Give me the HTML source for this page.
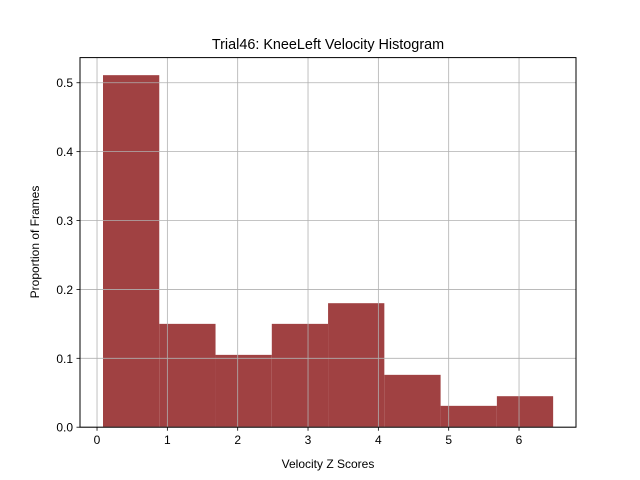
<!DOCTYPE html>
<html><head><meta charset="utf-8"><style>
body{margin:0;background:#fff}
svg{display:block;font-family:"Liberation Sans","DejaVu Sans",sans-serif}
</style></head><body>
<svg id="chart" width="640" height="480" viewBox="0 0 640 480">
<rect width="640" height="480" fill="#fff"/>
<text x="328" y="49" font-size="14.4" text-anchor="middle">Trial46: KneeLeft Velocity Histogram</text>
<g id="bars"></g><g id="grid"></g><g id="ticks"></g>
<rect x="80" y="57.6" width="496" height="369.6" fill="none" stroke="#000" stroke-width="1"/>
<text x="328" y="468" font-size="12" text-anchor="middle">Velocity Z Scores</text>
<text transform="translate(39,242) rotate(-90)" font-size="12" text-anchor="middle">Proportion of Frames</text>
</svg>
<script>
const binStart = 0.085;
const binWidth = 0.8;
const proportions = [0.511, 0.150, 0.105, 0.150, 0.180, 0.076, 0.031, 0.045];
const xTicks = [0, 1, 2, 3, 4, 5, 6];
const yTicks = [0.0, 0.1, 0.2, 0.3, 0.4, 0.5];
const yTickLabels = ["0.0", "0.1", "0.2", "0.3", "0.4", "0.5"];

const L=80,R=576,T=57.6,B=427.2;
const xMin=-0.242,xMax=6.81,yMin=0,yMax=0.5365;
const xs=v=>L+(v-xMin)/(xMax-xMin)*(R-L);
const ys=v=>B-(v-yMin)/(yMax-yMin)*(B-T);
const NS="http://www.w3.org/2000/svg";
function mk(tag,attrs,parent){const e=document.createElementNS(NS,tag);for(const k in attrs)e.setAttribute(k,attrs[k]);parent.appendChild(e);return e;}
const bars=document.getElementById('bars'),grid=document.getElementById('grid'),ticks=document.getElementById('ticks');
proportions.forEach((p,i)=>{
  const x0=xs(binStart+i*binWidth),x1=xs(binStart+(i+1)*binWidth);
  const r=mk('rect',{x:x0,y:ys(p),width:x1-x0,height:ys(0)-ys(p),fill:'#a04142'},bars);
  
  
});
xTicks.forEach(t=>{
  const x=xs(t);
  const g=mk('line',{x1:x,x2:x,y1:T,y2:B,stroke:'#b0b0b0','stroke-width':0.8},grid);
  
  
  mk('line',{x1:x,x2:x,y1:B,y2:B+3.5,stroke:'#000','stroke-width':0.8},ticks);
  const tx=mk('text',{x:x,y:B+17,'font-size':12,'text-anchor':'middle'},ticks);
  tx.textContent=t;
  
  
});
yTicks.forEach((t,i)=>{
  const y=ys(t);
  const g=mk('line',{x1:L,x2:R,y1:y,y2:y,stroke:'#b0b0b0','stroke-width':0.8},grid);
  
  
  mk('line',{x1:L-3.5,x2:L,y1:y,y2:y,stroke:'#000','stroke-width':0.8},ticks);
  const tx=mk('text',{x:L-7,y:y+4.5,'font-size':12,'text-anchor':'end'},ticks);
  tx.textContent=yTickLabels[i];
  
  
});
</script>
</body></html>
